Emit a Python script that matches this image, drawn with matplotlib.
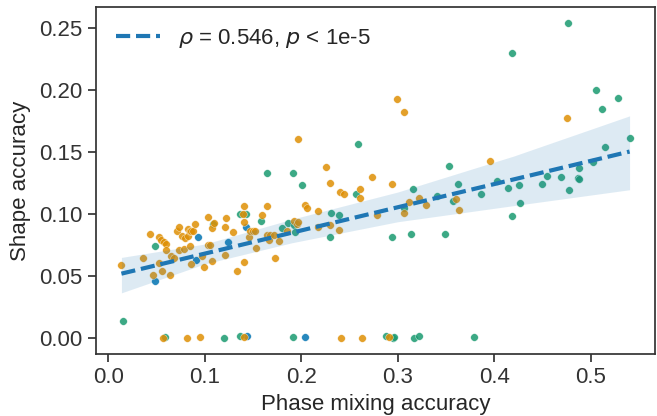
import matplotlib
matplotlib.use("Agg")
import matplotlib.pyplot as plt
import numpy as np

# points, three groups
blue_x = [0.048, 0.0929, 0.0911, 0.1235, 0.1425, 0.1436, 0.2036]
blue_y = [0.0459, 0.0819, 0.0628, 0.0773, 0.0897, 0.002, 0.001]

orange_x = [0.0135, 0.0359, 0.0428, 0.0462, 0.0528, 0.0549, 0.0573, 0.060, 0.060, 0.0528,
            0.0552, 0.0638, 0.0649, 0.0676, 0.0714, 0.0735, 0.0735, 0.0763, 0.078, 0.0797,
            0.0821, 0.0821, 0.0842, 0.0856, 0.0877, 0.0849, 0.0859, 0.0897, 0.097, 0.0994,
            0.1028, 0.1032, 0.1056, 0.1073, 0.1077, 0.109, 0.1214, 0.1211, 0.1211, 0.1287,
            0.1332, 0.1394, 0.1401, 0.1408, 0.1401, 0.146, 0.147, 0.1498, 0.1522, 0.1529,
            0.1591, 0.1643, 0.1643, 0.1667, 0.1677, 0.1711, 0.1726, 0.1763, 0.185, 0.1918,
            0.1953, 0.1964, 0.2039, 0.2057, 0.2171, 0.2171, 0.2254, 0.2298, 0.2298, 0.2388,
            0.2395, 0.2436, 0.2602, 0.2609, 0.273, 0.2781, 0.196, 0.2989, 0.3061, 0.294,
            0.3954, 0.4752, 0.3061, 0.3119, 0.3222, 0.3295, 0.3602, 0.3637,
            0.0566, 0.081, 0.0945, 0.1408, 0.2415, 0.263, 0.2906]
orange_y = [0.0594, 0.0647, 0.0843, 0.0513, 0.0817, 0.0789, 0.0773, 0.0763, 0.0714, 0.0607,
            0.054, 0.0508, 0.066, 0.0647, 0.0867, 0.0897, 0.0714, 0.0827, 0.0722, 0.0808,
            0.0881, 0.0827, 0.0862, 0.0867, 0.0865, 0.0741, 0.0602, 0.0924, 0.066, 0.0575,
            0.0978, 0.0755, 0.0755, 0.0892, 0.0626, 0.0929, 0.097, 0.0897, 0.0668, 0.0859,
            0.054, 0.1004, 0.0937, 0.1063, 0.0618, 0.0817, 0.0862, 0.0867, 0.0867, 0.0725,
            0.0991, 0.1063, 0.083, 0.0795, 0.083, 0.0833, 0.065, 0.0781, 0.0865, 0.0942,
            0.0924, 0.0934, 0.1077, 0.1047, 0.1023, 0.0897, 0.1385, 0.1256, 0.0916, 0.0875,
            0.1176, 0.1163, 0.1131, 0.1203, 0.1297, 0.0996, 0.1608, 0.193, 0.1828, 0.1244,
            0.1426, 0.1775, 0.1007, 0.1101, 0.1133, 0.1071, 0.112, 0.1031,
            0.0, 0.0, 0.001, 0.001, 0.0, 0.0, 0.001]

green_x = [0.0148, 0.048, 0.1083, 0.1359, 0.1425, 0.1584, 0.1643, 0.1801, 0.1866, 0.1912,
           0.1918, 0.1936, 0.2011, 0.2305, 0.2291, 0.2388, 0.2567, 0.2585, 0.316, 0.353,
           0.3627, 0.418, 0.4765, 0.5048, 0.5117, 0.528, 0.540, 0.5145, 0.3061, 0.3403,
           0.3568, 0.294, 0.3137, 0.3492, 0.3858, 0.403, 0.414, 0.425, 0.4179, 0.4265,
           0.4496, 0.4545, 0.469, 0.4775, 0.4862, 0.4876, 0.4876, 0.5017,
           0.059, 0.120, 0.1366, 0.191, 0.2875, 0.2953, 0.296, 0.317, 0.322, 0.3786]
green_y = [0.014, 0.0741, 0.0924, 0.0999, 0.0999, 0.0945, 0.1329, 0.0889, 0.0929, 0.1337,
           0.0916, 0.0857, 0.1235, 0.1007, 0.0819, 0.0991, 0.1163, 0.1563, 0.1203, 0.1393,
           0.1248, 0.2299, 0.2545, 0.2, 0.185, 0.1939, 0.1619, 0.1541, 0.105, 0.1149,
           0.1109, 0.0813, 0.0843, 0.0843, 0.1163, 0.1265, 0.1216, 0.1235, 0.0983, 0.1087,
           0.1248, 0.131, 0.1297, 0.1195, 0.1289, 0.1284, 0.1372, 0.1421,
           0.001, 0.0, 0.002, 0.001, 0.0016, 0.0, 0.001, 0.0, 0.0016, 0.001]

# fitted line and confidence band
fit_x = [0.0135, 0.540]
fit_y = [0.0521, 0.1506]
band_x = [0.0135, 0.1, 0.19, 0.3, 0.42, 0.54]
band_lo = [0.0366, 0.060, 0.077, 0.094, 0.107, 0.1198]
band_hi = [0.0652, 0.076, 0.096, 0.118, 0.147, 0.1794]

legend_label = r"$\rho$ = 0.546, $p$ < 1e-5"

plt.rcParams["font.family"] = ["Liberation Sans", "DejaVu Sans"]
plt.rcParams["font.size"] = 16
plt.rcParams["text.color"] = "#262626"
plt.rcParams["axes.labelcolor"] = "#262626"
plt.rcParams["xtick.color"] = "#333333"
plt.rcParams["ytick.color"] = "#333333"
plt.rcParams["mathtext.fontset"] = "dejavusans"

fig = plt.figure(figsize=(6.57, 4.16), dpi=100)
ax = fig.add_axes([96 / 657, 1 - 354 / 416, (655 - 96) / 657, (354 - 7) / 416])

pt_kw = dict(s=30, edgecolor="white", linewidth=0.3, alpha=0.85, zorder=2)
ax.scatter(blue_x, blue_y, color="#0173B2", **pt_kw)
ax.scatter(green_x, green_y, color="#1a9a70", **pt_kw)
ax.scatter(orange_x, orange_y, color="#DE8F05", **pt_kw)

ax.fill_between(band_x, band_lo, band_hi, color="#1f77b4", alpha=0.15, linewidth=0, zorder=3)
ax.plot(fit_x, fit_y, color="#1f77b4", lw=3, dashes=(3.4, 1.4), label=legend_label, zorder=4)

ax.set_xticks(np.arange(0, 0.51, 0.1))
ax.set_yticks(np.arange(0, 0.251, 0.05))
ax.set_xticklabels([f"{v:.1f}" for v in np.arange(0, 0.51, 0.1)])
ax.set_yticklabels([f"{v:.2f}" for v in np.arange(0, 0.251, 0.05)])
ax.margins(0.05)

for s in ax.spines.values():
    s.set_color("#333333")
    s.set_linewidth(1.25)
ax.tick_params(direction="out", length=6, width=1.25, labelsize=16)

ax.set_xlabel("Phase mixing accuracy", fontsize=16, labelpad=4)
ax.set_ylabel("Shape accuracy", fontsize=16, labelpad=6)
ax.legend(loc="upper left", frameon=False, fontsize=16)

fig.savefig("out.png", dpi=100)
